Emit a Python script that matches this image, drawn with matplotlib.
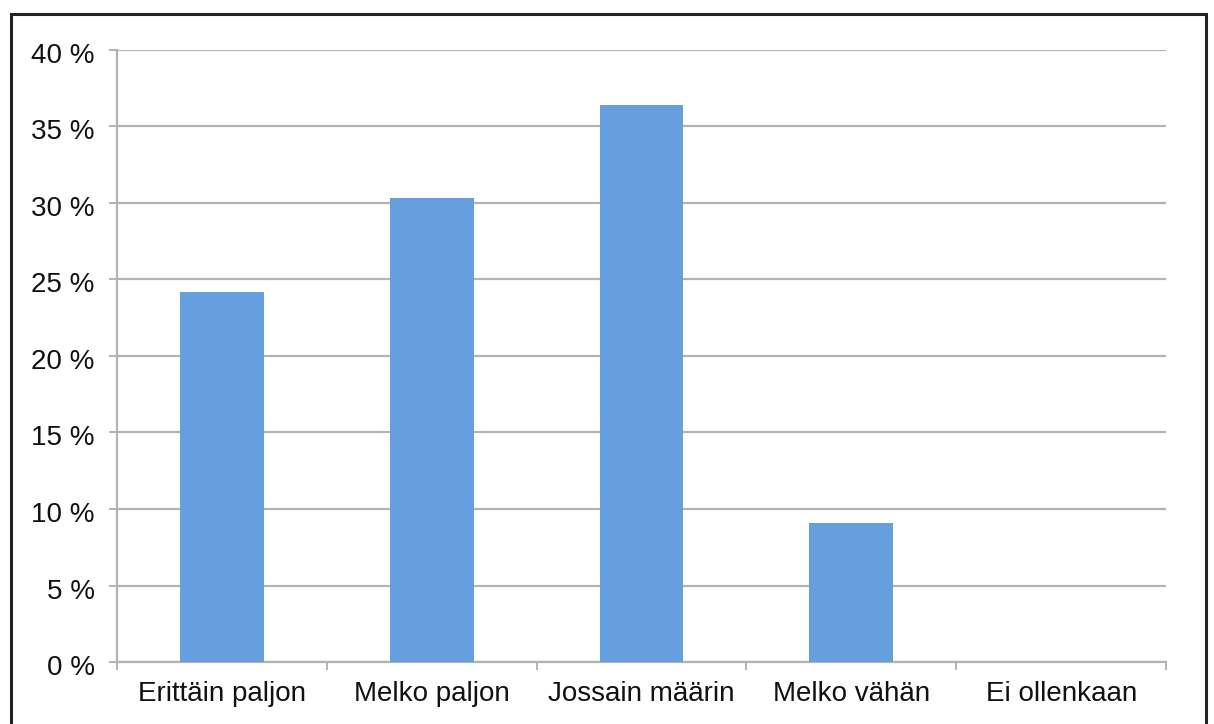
import matplotlib
matplotlib.use("Agg")
import matplotlib.pyplot as plt
from matplotlib.patches import Rectangle
from matplotlib.ticker import MultipleLocator, FuncFormatter
from matplotlib.transforms import ScaledTranslation

categories = ["Erittäin paljon", "Melko paljon", "Jossain määrin", "Melko vähän", "Ei ollenkaan"]
shares = [24.2, 30.3, 36.4, 9.1, 0.0]

plt.rcParams['font.family'] = ['Liberation Sans', 'DejaVu Sans']

fig = plt.figure(figsize=(12.14, 7.24), dpi=100)
ax = fig.add_axes([0.0964, 0.0856, 0.9605 - 0.0964, 0.931 - 0.0856])

grid_col = "#b3b3b3"
x = range(len(categories))
ax.bar(x, shares, width=0.4, color="#669fdd", zorder=3)

ax.set_xlim(-0.5, len(categories) - 0.5)
ax.set_ylim(0, 40)
ax.yaxis.set_major_locator(MultipleLocator(5))
ax.yaxis.set_major_formatter(FuncFormatter(lambda v, p: f"{v:.0f} %"))
ax.grid(axis="y", color=grid_col, lw=1.6, zorder=0)

ax.set_xticks(list(x))
ax.set_xticklabels(categories)
ax.set_xticks([i - 0.5 for i in range(len(categories) + 1)], minor=True)
ax.tick_params(axis="x", which="major", length=0, pad=14, labelsize=20, labelcolor="#111111")
ax.tick_params(axis="x", which="minor", length=6, width=1.4, color=grid_col, direction="out")
ax.tick_params(axis="y", length=6, width=1.4, color=grid_col, pad=10, labelsize=20, labelcolor="#111111")

# nudge the percent labels slightly below their gridlines
shift = ScaledTranslation(0, -3 / 100, fig.dpi_scale_trans)
for lbl in ax.get_yticklabels():
    lbl.set_transform(lbl.get_transform() + shift)

for side in ["top", "right"]:
    ax.spines[side].set_visible(False)
for side in ["left", "bottom"]:
    ax.spines[side].set_color(grid_col)
    ax.spines[side].set_linewidth(1.6)

# outer frame round the chart, open at the bottom edge
frame = Rectangle((10.5 / 1214, -0.05), (1205.5 - 10.5) / 1214, 1.05 - 13.5 / 724,
                  transform=fig.transFigure, fill=False, ec="#222222", lw=2.2, clip_on=False)
fig.patches.append(frame)

fig.savefig("out.png", dpi=100)
